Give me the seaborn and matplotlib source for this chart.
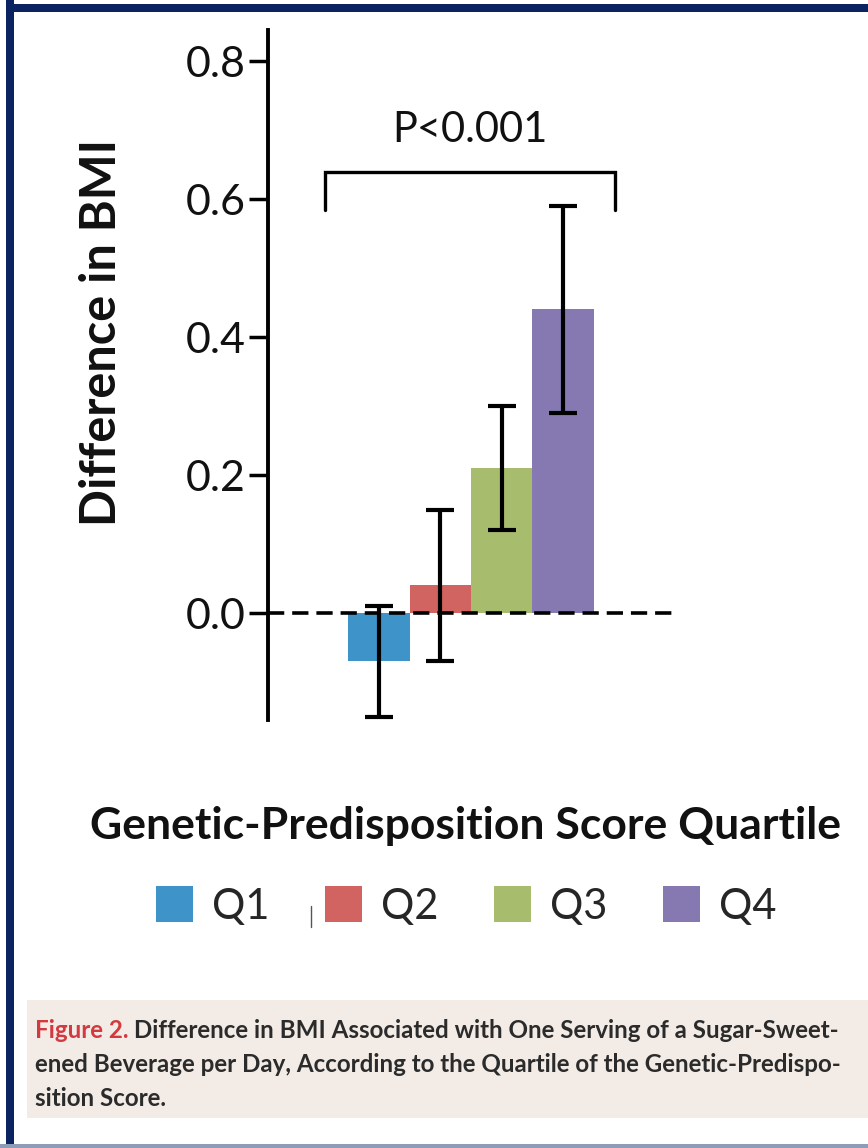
import matplotlib
matplotlib.use("Agg")
import matplotlib.pyplot as plt
import seaborn as sns
import pandas as pd
from matplotlib.patches import Rectangle
from matplotlib.lines import Line2D

# ---- data ----
quartiles = ["Q1", "Q2", "Q3", "Q4"]
bmi_diff = [-0.07, 0.04, 0.21, 0.44]
ci_low = [-0.15, -0.07, 0.12, 0.29]
ci_high = [0.01, 0.15, 0.30, 0.59]
bar_colors = ["#3e93c9", "#d16461", "#a7bd6d", "#8679b1"]
yticks = [0.0, 0.2, 0.4, 0.6, 0.8]
ytick_labels = ["0.0", "0.2", "0.4", "0.6", "0.8"]
p_text = "P<0.001"
xlabel = "Genetic-Predisposition Score Quartile"
ylabel = "Difference in BMI"
caption_head = "Figure 2."
caption_lines = [
    " Difference in BMI Associated with One Serving of a Sugar-Sweet-",
    "ened Beverage per Day, According to the Quartile of the Genetic-Predispo-",
    "sition Score.",
]

df = pd.DataFrame({"quartile": quartiles, "diff": bmi_diff,
                   "lo": ci_low, "hi": ci_high})

sns.set_style("white")
plt.rcParams["font.family"] = ["Lato", "DejaVu Sans"]

W, H = 868, 1148
fig = plt.figure(figsize=(W / 100, H / 100), dpi=100)
fig.patch.set_facecolor("white")


def fx(px):
    return px / W


def fy(py):
    return 1 - py / H


ax_l, ax_r, ax_t, ax_b = 268, 672, 30, 720
ax = fig.add_axes([fx(ax_l), fy(ax_b), fx(ax_r - ax_l), (ax_b - ax_t) / H])
ax.set_facecolor("none")

sns.barplot(data=df, x="quartile", y="diff", hue="quartile",
            palette=bar_colors, width=1.0, saturation=1, linewidth=0,
            errorbar=None, ax=ax, legend=True, zorder=2)

ax.axhline(0, color="black", lw=2.6, dashes=(4.5, 2.2), zorder=3)

xpos = list(range(len(quartiles)))
yerr = [[d - l for d, l in zip(bmi_diff, ci_low)],
        [h - d for d, h in zip(bmi_diff, ci_high)]]
ax.errorbar(xpos, bmi_diff, yerr=yerr, fmt="none", ecolor="black",
            elinewidth=3.0, capsize=10, capthick=3.0, zorder=4)

ax.set_xlim(-1.81, 4.78)
ax.set_ylim(-0.155, 0.845)
ax.set_yticks(yticks)
ax.set_yticklabels(ytick_labels)
ax.tick_params(axis="y", direction="out", length=14, width=2.5,
               labelsize=31, pad=2, colors="black", left=True)
ax.tick_params(axis="x", bottom=False, labelbottom=False)
for lab in ax.get_yticklabels():
    lab.set_color("#111111")
for s in ["top", "right", "bottom"]:
    ax.spines[s].set_visible(False)
ax.spines["left"].set_linewidth(2.8)
ax.spines["left"].set_color("black")
ax.set_xlabel("")
ax.set_ylabel("")

# significance bracket
bx0, bx1, by_top, by_bot = -0.88, 3.85, 0.639, 0.584
ax.plot([bx0, bx0, bx1, bx1], [by_bot, by_top, by_top, by_bot],
        color="black", lw=2.4, solid_joinstyle="miter", zorder=4,
        clip_on=False)
ax.text(1.48, 0.700, p_text, ha="center", va="center", fontsize=30,
        color="#111111")

# labels
fig.text(fx(102), fy(332), ylabel, rotation=90, ha="center", va="center",
         fontsize=35, fontweight="bold", color="#111111")
fig.text(fx(466), fy(826), xlabel, ha="center", va="center",
         fontsize=32, fontweight="bold", color="#111111")

# legend
sns.move_legend(ax, "center", bbox_to_anchor=(fx(466), fy(906)),
                bbox_transform=fig.transFigure, ncol=4, frameon=False,
                title=None, fontsize=30, handlelength=0.9, handleheight=0.95,
                handletextpad=0.45, columnspacing=1.33, borderpad=0)

fig.add_artist(Line2D([fx(311), fx(311)], [fy(906), fy(927)],
                      color="#555555", lw=1.0))

# caption box
fig.add_artist(Rectangle((fx(27), fy(1118)), fx(W - 27), (1118 - 1000) / H,
                         transform=fig.transFigure, facecolor="#f3ece6",
                         edgecolor="none", zorder=0))
cap_font = ["Lato", "DejaVu Sans"]
cap_size = 17.4
t1 = fig.text(fx(35), fy(1042), caption_head, ha="left", va="bottom",
              fontsize=cap_size, color="#d23a40", family=cap_font,
              fontweight="bold")
ax2 = fig.add_axes([0, 0, 1, 1], facecolor="none")
ax2.set_axis_off()
ax2.annotate(caption_lines[0], xy=(1, 0), xycoords=t1, ha="left",
             va="bottom", fontsize=cap_size, color="#2b2b2b",
             family=cap_font, fontweight="bold")
fig.text(fx(35), fy(1076), caption_lines[1], ha="left", va="bottom",
         fontsize=cap_size, color="#2b2b2b", family=cap_font,
         fontweight="bold")
fig.text(fx(35), fy(1110), caption_lines[2], ha="left", va="bottom",
         fontsize=cap_size, color="#2b2b2b", family=cap_font,
         fontweight="bold")

# frame borders
navy = "#0b2461"
fig.add_artist(Rectangle((fx(6), 0), fx(8), 1, transform=fig.transFigure,
                         facecolor=navy, edgecolor="none"))
fig.add_artist(Rectangle((fx(6), fy(12)), 1, 8 / H, transform=fig.transFigure,
                         facecolor=navy, edgecolor="none"))
fig.add_artist(Rectangle((0, 0), 1, 4 / H, transform=fig.transFigure,
                         facecolor="#8d9db6", edgecolor="none"))

fig.savefig("out.png", dpi=100, facecolor="white")
